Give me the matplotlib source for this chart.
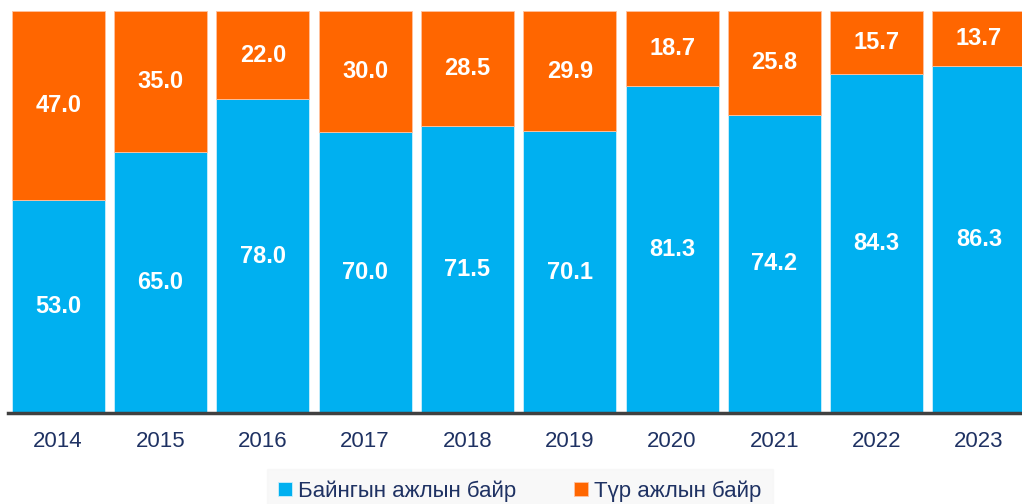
import matplotlib.pyplot as plt
import numpy as np

years = ['2014', '2015', '2016', '2017', '2018', '2019', '2020', '2021', '2022', '2023']
permanent = [53.0, 65.0, 78.0, 70.0, 71.5, 70.1, 81.3, 74.2, 84.3, 86.3]
temporary = [47.0, 35.0, 22.0, 30.0, 28.5, 29.9, 18.7, 25.8, 15.7, 13.7]

blue = '#00B0F0'
orange = '#FF6600'
navy = '#1F3263'

plt.rcParams['font.family'] = ['Liberation Sans', 'DejaVu Sans']

fig = plt.figure(figsize=(10.22, 5.04), dpi=100)
ax = fig.add_axes([8 / 1022, 91 / 504, 1014 / 1022, 402 / 504])

x = np.arange(len(years))
w = 0.91
b1 = ax.bar(x, permanent, w, color=blue, edgecolor='#CCEFFC', linewidth=0.6,
            label='Байнгын ажлын байр')
b2 = ax.bar(x, temporary, w, bottom=permanent, color=orange, edgecolor='#FFC2A0',
            linewidth=0.6, label='Түр ажлын байр')

# value labels in the middle of each segment
for i in range(len(years)):
    ax.text(x[i], permanent[i] / 2, f'{permanent[i]:.1f}', ha='center', va='center',
            color='white', fontsize=17, fontweight='bold')
    ax.text(x[i], permanent[i] + temporary[i] / 2, f'{temporary[i]:.1f}', ha='center',
            va='center', color='white', fontsize=17, fontweight='bold')

ax.set_xlim(-0.49, 9.42)
ax.set_ylim(0, 100)
ax.set_yticks([])
ax.set_xticks(x)
ax.set_xticklabels(years, color=navy, fontsize=16)
ax.tick_params(axis='x', length=0, pad=13)
for s in ['top', 'right', 'left']:
    ax.spines[s].set_visible(False)
ax.spines['bottom'].set_color('#404040')
ax.spines['bottom'].set_linewidth(2.5)

leg = fig.legend(handles=[b1, b2], loc='center', bbox_to_anchor=(520 / 1022, 13 / 504),
                 ncol=2, frameon=True, fontsize=16, handlelength=0.6, handleheight=0.6,
                 handletextpad=0.3, columnspacing=2.6, borderpad=0.5, borderaxespad=0,
                 fancybox=False)
leg.get_frame().set_facecolor('#F7F7F7')
leg.get_frame().set_edgecolor('#F7F7F7')
for t in leg.get_texts():
    t.set_color(navy)

fig.savefig('out.png', dpi=100)
